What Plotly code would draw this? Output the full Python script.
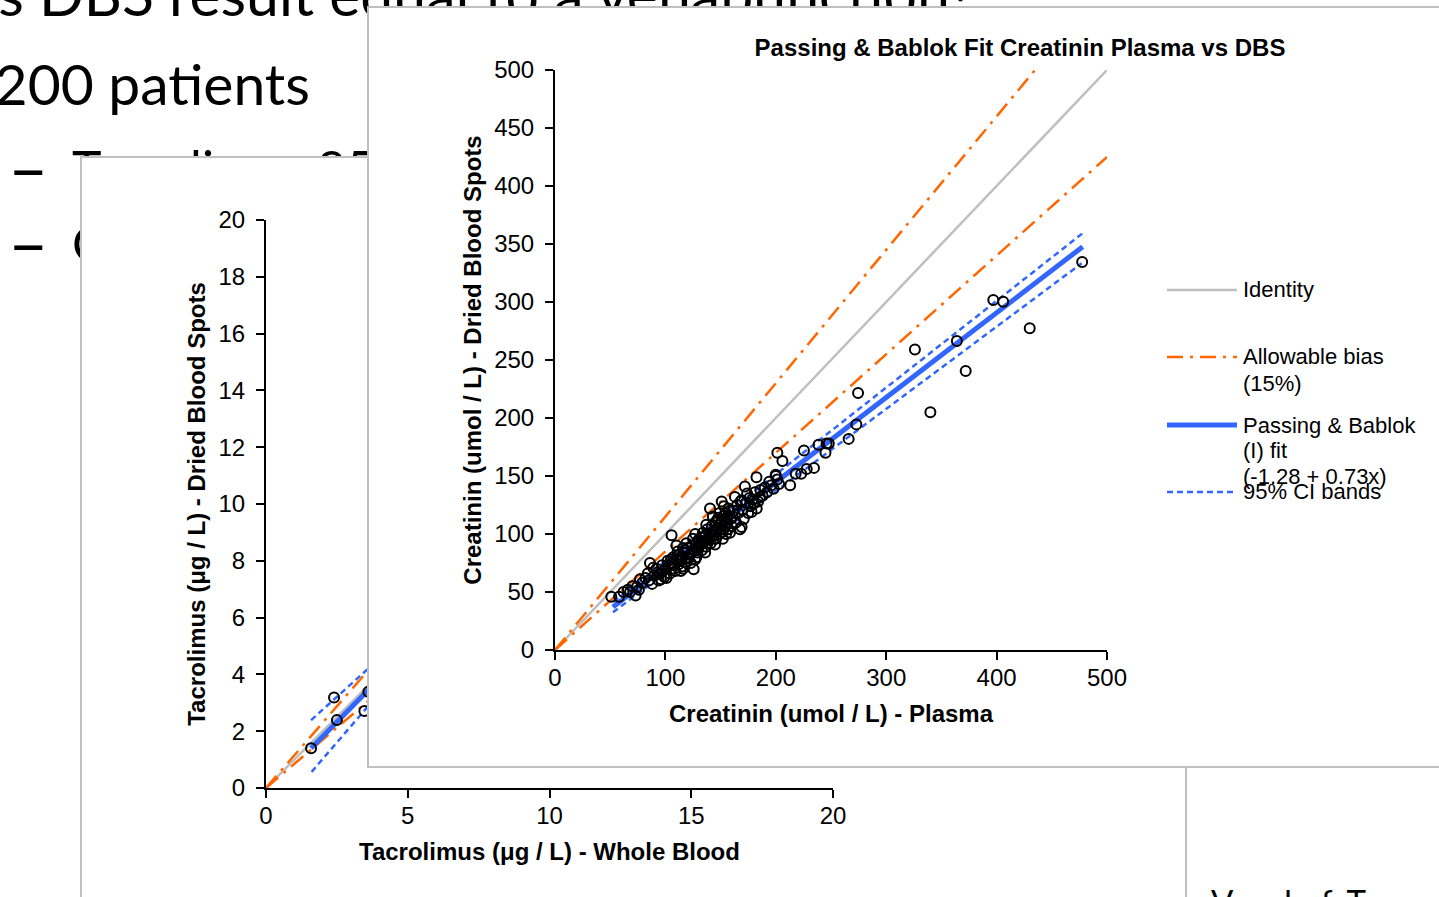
import plotly.graph_objects as go

W, H = 1439, 897

# ---------------- data : Creatinin (front chart) ----------------
cr_plasma = [
    51, 58, 62, 66, 73, 74, 77, 70, 68, 79, 76,
    86, 88, 94, 101, 82, 84, 90, 92, 95, 98, 85, 97, 99, 93, 89, 96,
    105.6, 125.6, 103, 106, 108, 110, 112, 114, 115, 117, 118, 120, 121, 122, 124, 126, 127, 128, 129, 130,
    104, 107, 109, 111, 113, 116, 119, 123, 100, 102, 110, 118, 125, 127, 130,
    105, 112, 116, 120, 124, 128, 108, 114,
    131, 132, 133, 134, 135, 136, 137, 138, 139, 140.4, 140, 141, 142, 143, 144, 145, 146, 147, 148, 149,
    150, 151, 151, 152, 153, 154, 155, 156, 157, 158, 158.5, 159, 160, 134, 137, 143, 146, 149, 152, 155,
    157, 136, 145, 153,
    138, 142, 147, 150, 154, 156, 132, 144,
    163, 169, 169, 167.6, 172, 176, 175, 182.7, 182.5, 185.7, 161, 162, 164, 165, 166, 168, 170, 171, 173,
    174, 177, 178, 179, 180, 181, 184, 186, 188, 190, 192, 194, 196, 198, 199.9, 201.4, 203, 200,
    201.4, 206, 213, 218, 223, 228, 234.6, 225.5, 238.7, 246, 245, 248, 266, 273, 274.5,
    326, 340, 364, 372, 397, 406, 430, 477.5,
]
cr_dbs = [
    46, 46, 50, 52, 47, 54, 61, 55, 50, 58, 52,
    75, 57, 60, 62, 62, 66, 64, 70, 66, 68, 60, 73, 63, 67, 71, 61,
    99, 69.6, 72, 75, 70, 78, 74, 80, 72, 84, 76, 88, 79, 82, 90, 86, 78, 92, 84, 88,
    66, 80, 68, 85, 77, 70, 92, 75, 70, 77, 90, 86, 96, 100, 95,
    78, 82, 88, 80, 84, 80, 74, 68,
    90, 97, 86, 101, 93, 98, 89, 104, 95, 122, 100, 92, 107, 98, 103, 110, 96, 105, 114, 100,
    108, 128, 112, 102, 116, 106, 118, 110, 104, 120, 101, 113, 107, 94, 108, 115, 102, 118, 96, 100,
    122, 84, 91, 124,
    92, 100, 112, 104, 112, 115, 92, 96,
    132, 129, 106, 104, 141, 131, 118, 122, 149, 132, 115, 120, 110, 125, 118, 128, 121, 113, 127,
    135, 124, 119, 130, 126, 136, 128, 138, 133, 140, 136, 145, 142, 139, 151, 147, 143, 150,
    170, 163, 142, 152, 152, 156, 157, 172, 177, 178, 170, 178, 182, 194.5, 221.6,
    259, 205, 266.4, 240.5, 301.7, 300.3, 277.3, 334.5,
]
cr_line_x = [0, 500]
cr_identity_y = [0, 500]
cr_bias_hi_y = [0, 575]
cr_bias_lo_y = [0, 425]
cr_fit_x = [52.5, 478]
cr_fit_y = [37.0, 347.7]
cr_ci_hi_x = [53, 478.5]
cr_ci_hi_y = [41.5, 359.7]
cr_ci_lo_x = [52.5, 477]
cr_ci_lo_y = [32.5, 333.3]

# ---------------- data : Tacrolimus (back chart, mostly hidden) ----------------
tac_wb = [1.59, 2.40, 2.50, 3.47, 3.61]
tac_dbs = [1.40, 3.19, 2.39, 2.71, 3.39]
tac_line_x = [0, 20]
tac_identity_y = [0, 20]
tac_bias_hi_y = [0, 23]
tac_bias_lo_y = [0, 17]
tac_fit_x = [1.59, 8]
tac_fit_y = [1.40, 7.91]
tac_ci_hi_x = [1.59, 8]
tac_ci_hi_y = [2.39, 8.16]
tac_ci_lo_x = [1.61, 8]
tac_ci_lo_y = [0.57, 7.98]

# ---------------- slide texts ----------------
slide_line1 = "Is DBS result equal to a venapunction?"
slide_line2 = "200 patients"
slide_bullet = "–"
slide_sub1 = "Tacrolimus 85 patients"
slide_sub2 = "Creatinin 115 patients"
slide_ref = "Veenhof, Transplantation 2019"

legend_labels = ["Identity", "Allowable bias", "(15%)", "Passing & Bablok", "(I) fit",
                 "(-1.28 + 0.73x)", "95% CI bands"]

# ---------------- styles ----------------
GRAY = "#BFBFBF"
ORANGE = "#FF6600"
BLUE = "#3366FF"
BOXLINE = "#C0C0C0"
CHART_FONT = "Liberation Sans"
SLIDE_FONT = "Lato"
DASHDOT = "16px,7px,3px,7px"
DASH = "6px,4px"


def px(x):
    return x / W


def py(y):
    return 1 - y / H


fig = go.Figure()


# slide background text (subplot xy, pixel coordinates)
def slide_text(x, y, text, size, pos):
    fig.add_trace(go.Scatter(
        x=[x], y=[y], text=[text], mode="text", textposition=pos,
        textfont=dict(family=SLIDE_FONT, size=size, color="black"),
        cliponaxis=False, hoverinfo="skip", showlegend=False, xaxis="x", yaxis="y"))


slide_text(975, 1.5, slide_line1, 59, "middle left")
slide_text(310, 90.8, slide_line2, 57, "middle left")
slide_text(8, 175.9, slide_bullet, 70, "middle right")
slide_text(72, 174, slide_sub1, 50, "middle right")
slide_text(8, 250.9, slide_bullet, 70, "middle right")
slide_text(72, 249, slide_sub2, 50, "middle right")
slide_text(1211, 889, slide_ref, 33, "bottom right")

# back box dummy (x2y2)
fig.add_trace(go.Scatter(x=[], y=[], xaxis="x2", yaxis="y2", showlegend=False, hoverinfo="skip"))


def add_lines(xa, ya, lx, ident, bhi, blo, fx, fy, chx, chy, clx, cly, fitw):
    common = dict(mode="lines", xaxis=xa, yaxis=ya, showlegend=False, hoverinfo="skip")
    fig.add_trace(go.Scatter(x=lx, y=ident, line=dict(color=GRAY, width=2.5), **common))
    fig.add_trace(go.Scatter(x=lx, y=bhi, line=dict(color=ORANGE, width=2.5, dash=DASHDOT), **common))
    fig.add_trace(go.Scatter(x=lx, y=blo, line=dict(color=ORANGE, width=2.5, dash=DASHDOT), **common))
    fig.add_trace(go.Scatter(x=chx, y=chy, line=dict(color=BLUE, width=2.5, dash=DASH), **common))
    fig.add_trace(go.Scatter(x=clx, y=cly, line=dict(color=BLUE, width=2.5, dash=DASH), **common))
    fig.add_trace(go.Scatter(x=fx, y=fy, line=dict(color=BLUE, width=fitw), **common))


# back chart (x3y3)
add_lines("x3", "y3", tac_line_x, tac_identity_y, tac_bias_hi_y, tac_bias_lo_y,
          tac_fit_x, tac_fit_y, tac_ci_hi_x, tac_ci_hi_y, tac_ci_lo_x, tac_ci_lo_y, 5)
fig.add_trace(go.Scatter(x=tac_wb, y=tac_dbs, mode="markers",
                         marker=dict(symbol="circle-open", size=10, color="black", line=dict(width=2)),
                         xaxis="x3", yaxis="y3", showlegend=False))

# front box dummy (x4y4)
fig.add_trace(go.Scatter(x=[], y=[], xaxis="x4", yaxis="y4", showlegend=False, hoverinfo="skip"))

# front chart (x5y5)
add_lines("x5", "y5", cr_line_x, cr_identity_y, cr_bias_hi_y, cr_bias_lo_y,
          cr_fit_x, cr_fit_y, cr_ci_hi_x, cr_ci_hi_y, cr_ci_lo_x, cr_ci_lo_y, 5)
fig.add_trace(go.Scatter(x=cr_plasma, y=cr_dbs, mode="markers",
                         marker=dict(symbol="circle-open", size=10, color="black", line=dict(width=2)),
                         xaxis="x5", yaxis="y5", showlegend=False))

tickfont = dict(family=CHART_FONT, size=24, color="black")
titlefont = dict(family=CHART_FONT, size=24, color="black", weight="bold")
hidden = dict(showgrid=False, zeroline=False, showticklabels=False, ticks="", range=[0, 1],
              fixedrange=True, automargin=False)
chart_ax = dict(showgrid=False, zeroline=False, showline=True, linecolor="black", linewidth=2,
                ticks="outside", ticklen=8, tickwidth=2, tickcolor="black", tickfont=tickfont,
                fixedrange=True, automargin=False)

fig.update_layout(
    width=W, height=H, autosize=False,
    margin=dict(l=0, r=0, t=0, b=0, pad=0, autoexpand=False),
    paper_bgcolor="white", plot_bgcolor="white", showlegend=False,
    title=dict(text="Passing & Bablok Fit Creatinin Plasma vs DBS",
               x=px(1020), xanchor="center", xref="paper",
               y=py(48), yanchor="middle", yref="paper", automargin=False,
               font=dict(family=CHART_FONT, size=24, color="black", weight="bold")),
    xaxis=dict(domain=[0, 1], range=[0, W], visible=False, fixedrange=True, anchor="y", automargin=False),
    yaxis=dict(domain=[0, 1], range=[H, 0], visible=False, fixedrange=True, anchor="x", automargin=False),
    xaxis2=dict(domain=[px(82), px(1185)], anchor="y2", side="top", showline=True,
                linecolor=BOXLINE, linewidth=2, mirror=False, **hidden),
    yaxis2=dict(domain=[0, py(158)], anchor="x2", showline=True, linecolor=BOXLINE,
                linewidth=2, mirror=True, **hidden),
    xaxis3=dict(domain=[px(266), px(833)], anchor="y3", range=[0, 20], dtick=5, ticklabelstandoff=-3,
                title=dict(text="Tacrolimus (μg / L) - Whole Blood", font=titlefont, standoff=15),
                **chart_ax),
    yaxis3=dict(domain=[py(788), py(220)], anchor="x3", range=[0, 20], dtick=2, ticklabelstandoff=6,
                title=dict(text="Tacrolimus (μg / L) - Dried Blood Spots", font=titlefont, standoff=6),
                **chart_ax),
    xaxis4=dict(domain=[px(369), 1], anchor="y4", showline=True, linecolor=BOXLINE,
                linewidth=2, mirror=True, **hidden),
    yaxis4=dict(domain=[py(766), py(8)], anchor="x4", showline=True, linecolor=BOXLINE,
                linewidth=2, mirror=False, **hidden),
    xaxis5=dict(domain=[px(555), px(1107)], anchor="y5", range=[0, 500], dtick=100, ticklabelstandoff=-3,
                title=dict(text="Creatinin (umol / L) - Plasma", font=titlefont, standoff=15),
                **chart_ax),
    yaxis5=dict(domain=[py(650), py(70)], anchor="x5", range=[0, 500], dtick=50, ticklabelstandoff=6,
                title=dict(text="Creatinin (umol / L) - Dried Blood Spots", font=titlefont, standoff=6),
                **chart_ax),
)

# legend of the front chart (keys + labels)
key_y = [290, 357, 425, 492]
key_styles = [dict(color=GRAY, width=2.5), dict(color=ORANGE, width=2.5, dash=DASHDOT),
              dict(color=BLUE, width=5), dict(color=BLUE, width=2.5, dash=DASH)]
for ky, st in zip(key_y, key_styles):
    fig.add_shape(type="line", xref="paper", yref="paper", x0=px(1167), x1=px(1237),
                  y0=py(ky), y1=py(ky), line=st, layer="above")

label_y = [290, 357, 383, 425, 451, 476, 492]
for lab, ly in zip(legend_labels, label_y):
    fig.add_annotation(text=lab, xref="paper", yref="paper", x=px(1241), y=py(ly),
                       xanchor="left", yanchor="middle", showarrow=False,
                       font=dict(family=CHART_FONT, size=22, color="black"))

fig.write_html("out.html", config={"displayModeBar": False},
               post_script="document.body.style.margin='0px';")
